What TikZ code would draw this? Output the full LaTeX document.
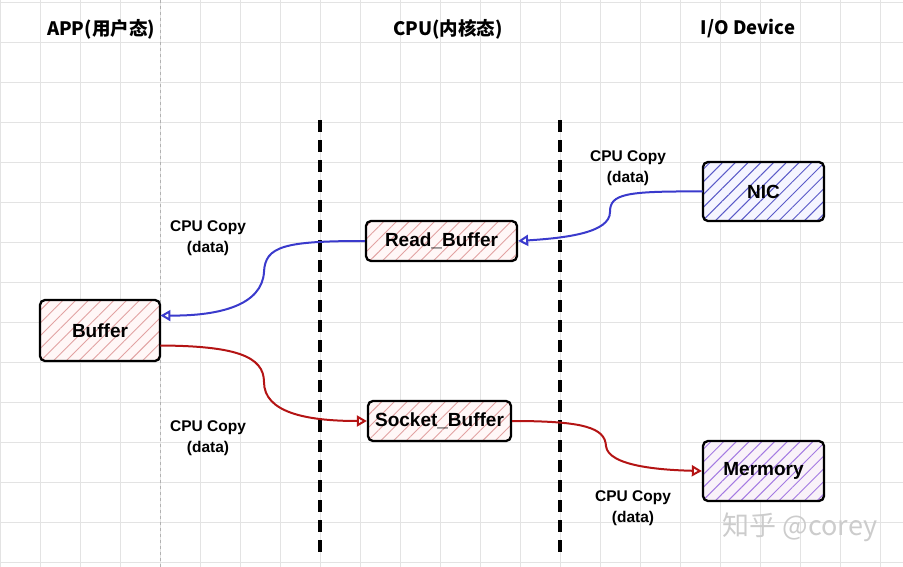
\documentclass[tikz,border=0pt]{standalone}
\usepackage{fontspec}
\setmainfont{Liberation Sans}
\newfontfamily\cjkfont{Noto Sans CJK SC}
\usetikzlibrary{arrows.meta,patterns.meta}

\definecolor{copyblue}{HTML}{3A3ACC}
\definecolor{copyred}{HTML}{B41414}
\definecolor{hatchred}{HTML}{E2A2A2}
\definecolor{hatchblue}{HTML}{5A5AC8}
\definecolor{hatchpurple}{HTML}{A47AE2}

\tikzset{
  title/.style={font=\cjkfont\bfseries\fontsize{18.5}{20}\selectfont},
  buf/.style={draw=black, line width=2.3pt, rounded corners=5pt, inner sep=0pt,
    font=\bfseries\fontsize{19}{20}\selectfont},
  redbuf/.style={buf, preaction={fill=red!3},
    pattern={Lines[angle=45,distance=9pt,line width=0.9pt]}, pattern color=hatchred},
  bluebuf/.style={buf, preaction={fill=blue!4},
    pattern={Lines[angle=45,distance=9pt,line width=1pt]}, pattern color=hatchblue},
  purplebuf/.style={buf, preaction={fill=violet!5},
    pattern={Lines[angle=45,distance=9pt,line width=1pt]}, pattern color=hatchpurple},
  copylabel/.style={align=center, font=\bfseries\fontsize{15.5}{21}\selectfont},
  bluecopy/.style={draw=copyblue, line width=2pt, -{Triangle[open,length=10pt,width=11pt]}},
  redcopy/.style={draw=copyred, line width=2pt, -{Triangle[open,length=10pt,width=11pt]}},
  border/.style={line width=3.2pt, dash pattern=on 12pt off 8pt}
}

\begin{document}
\begin{tikzpicture}[x=1pt,y=-1pt]

\useasboundingbox (0,0) rectangle (903,567);

% Draw the grid
\foreach \gx in {0,40,...,880}
  \draw[gray!22, line width=0.7pt] (\gx,0) -- (\gx,567);
\foreach \gy in {2,42,...,562}
  \draw[gray!22, line width=0.7pt] (0,\gy) -- (903,\gy);
\draw[gray!60, line width=0.7pt, dash pattern=on 3pt off 3pt] (160,0) -- (160,567);

% Draw the borders
\draw[border] (320,120) -- (320,553);
\draw[border] (560,120) -- (560,553);

% Draw the titles
\node[title] (app) at (101,29) {APP(用户态)};
\node[title] (cpu) at (448,29) {CPU(内核态)};
\node[title] (dev) at (748,29) {I/O Device};

% Draw the buffers
\node[redbuf, minimum width=120pt, minimum height=61pt] (buffer) at (100,330.5) {Buffer};
\node[redbuf, minimum width=151pt, minimum height=40pt] (read) at (441.5,241) {Read\_Buffer};
\node[redbuf, minimum width=143pt, minimum height=40pt] (socket) at (439.5,421) {Socket\_Buffer};
\node[bluebuf, minimum width=121pt, minimum height=59pt] (nic) at (763.5,191.5) {NIC};
\node[purplebuf, minimum width=121pt, minimum height=60pt] (mem) at (763.5,471) {Mermory};

% Draw the copies
\draw[bluecopy] (nic.west) .. controls (625,191) and (610,194) .. (610,212)
  .. controls (610,233) and (565,238) .. (read.east);
\draw[bluecopy] (read.west) .. controls (285,241) and (265,246) .. (264,272)
  .. controls (262,305) and (220,316) .. ([yshift=15pt]buffer.east);
\draw[redcopy] ([yshift=-15pt]buffer.east) .. controls (235,346) and (264,356) .. (264,382)
  .. controls (264,412) and (305,421) .. (socket.west);
\draw[redcopy] (socket.east) .. controls (585,421) and (605,428) .. (606,446)
  .. controls (608,466) and (660,470) .. (mem.west);

% Draw the labels
\node[copylabel] (l1) at (628,168) {CPU Copy\\(data)};
\node[copylabel] (l2) at (208,238) {CPU Copy\\(data)};
\node[copylabel] (l3) at (208,438) {CPU Copy\\(data)};
\node[copylabel] (l4) at (633,508) {CPU Copy\\(data)};

% Draw the mark
\node[gray!40, font=\cjkfont\fontsize{27}{28}\selectfont] (mark) at (800,527) {知乎 @corey};

\end{tikzpicture}
\end{document}
